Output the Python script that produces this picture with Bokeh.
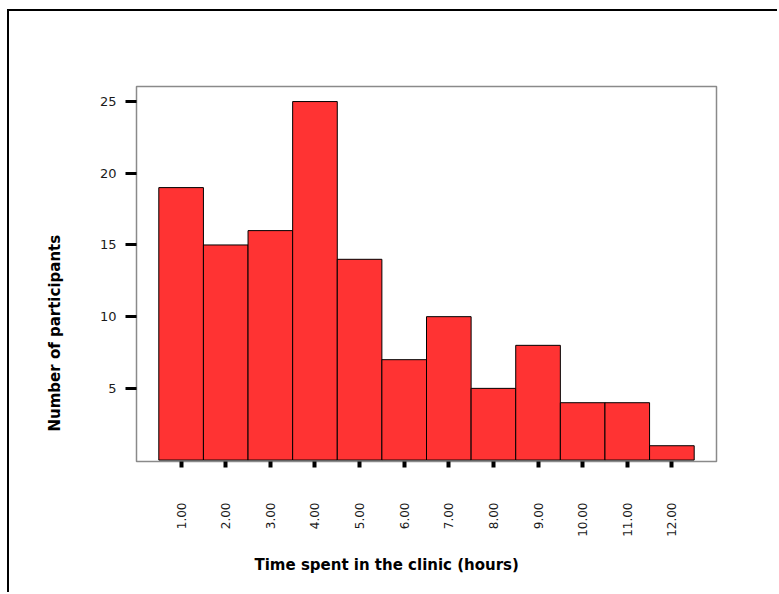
from bokeh.plotting import figure
from bokeh.models import FixedTicker, Range1d, Title
from bokeh.embed import file_html
from bokeh.resources import INLINE
import math

# ---- data ----
hours = [1, 2, 3, 4, 5, 6, 7, 8, 9, 10, 11, 12]
counts = [19, 15, 16, 25, 14, 7, 10, 5, 8, 4, 4, 1]
x_tick_labels = ["1.00", "2.00", "3.00", "4.00", "5.00", "6.00",
                 "7.00", "8.00", "9.00", "10.00", "11.00", "12.00"]
y_ticks = [5, 10, 15, 20, 25]
x_title = "Time spent in the clinic (hours)"
y_title = "Number of participants"

FONT = "DejaVu Sans"

p = figure(width=770, height=583, output_backend="svg", toolbar_location=None,
           x_range=Range1d(0, 13), y_range=Range1d(-0.1, 26.05))
p.min_border_left = 127
p.min_border_right = 63
p.min_border_top = 75
p.min_border_bottom = 133
p.styles = {"margin-left": "7px", "margin-top": "9px",
            "border-top": "2px solid black", "border-left": "2px solid black"}

p.background_fill_color = "white"
p.border_fill_color = "white"
p.outline_line_color = "#8a8a8a"
p.outline_line_width = 1.5
p.grid.visible = False

lefts = [h - 0.5 for h in hours]
rights = [h + 0.5 for h in hours]
p.quad(left=lefts, right=rights, bottom=0, top=counts,
       fill_color="#ff3333", line_color="black", line_width=1)

# x axis
xa = p.xaxis[0]
xa.ticker = FixedTicker(ticks=hours)
xa.major_label_overrides = {h: lab for h, lab in zip(hours, x_tick_labels)}
xa.major_label_orientation = math.pi / 2
xa.major_label_text_font = FONT
xa.major_label_text_font_size = "12px"
xa.major_label_text_color = "#1a1a1a"
xa.major_label_standoff = 35
xa.major_tick_in = 0
xa.major_tick_out = 6
xa.major_tick_line_width = 4
xa.major_tick_line_color = "black"
xa.minor_tick_line_color = None
xa.axis_line_color = None

# y axis
ya = p.yaxis[0]
ya.ticker = FixedTicker(ticks=y_ticks)
ya.major_label_text_font = FONT
ya.major_label_text_font_size = "13px"
ya.major_label_text_color = "#1a1a1a"
ya.major_label_standoff = 9
ya.major_tick_in = 0
ya.major_tick_out = 11
ya.major_tick_line_width = 3
ya.major_tick_line_color = "black"
ya.minor_tick_line_color = None
ya.axis_line_color = None

# axis titles (off-centre as in the reference)
xt = Title(text=x_title, align="left", offset=118, standoff=29,
           text_font=FONT, text_font_size="15px", text_font_style="bold",
           text_color="black")
p.add_layout(xt, "below")
yt = Title(text=y_title, align="left", offset=30, standoff=65,
           text_font=FONT, text_font_size="15px", text_font_style="bold",
           text_color="black")
p.add_layout(yt, "left")

open("out.html", "w").write(file_html(p, INLINE))
